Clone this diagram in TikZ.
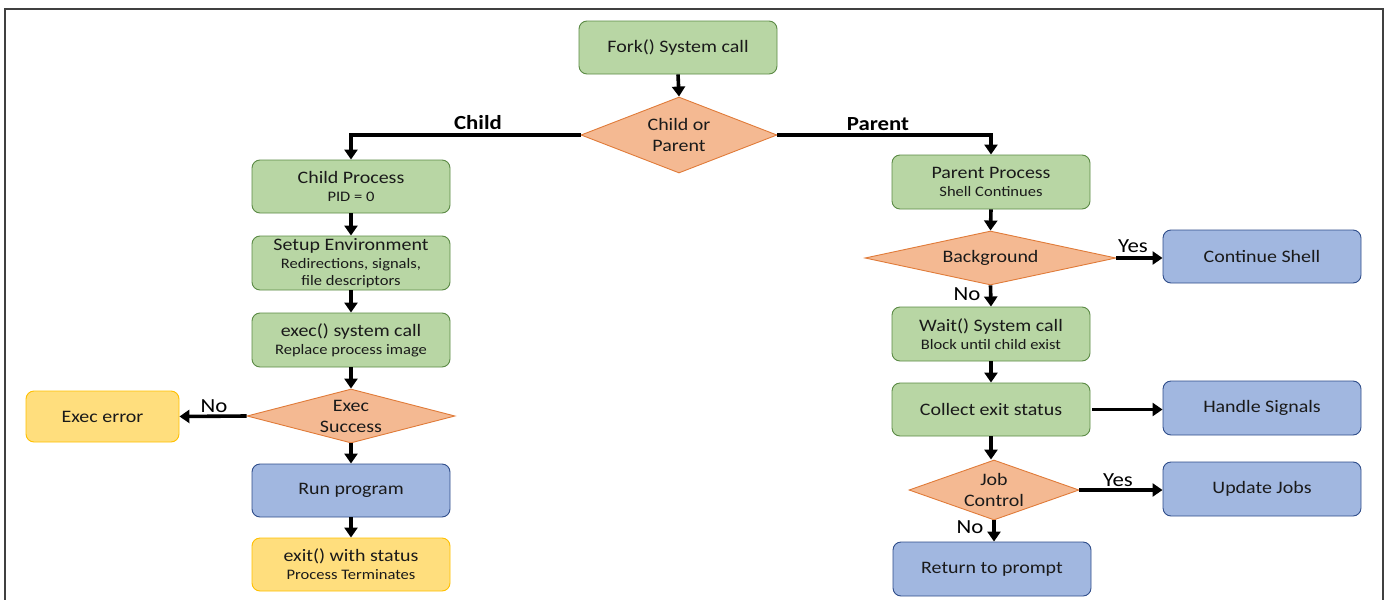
\documentclass[tikz,border=0pt]{standalone}
\usepackage{fontspec}
\setmainfont{Carlito}[FakeStretch=1.14]
\usetikzlibrary{arrows.meta,shapes.geometric}
\definecolor{gfill}{HTML}{B8D6A4}
\definecolor{gline}{HTML}{5B8A45}
\definecolor{ofill}{HTML}{F4B992}
\definecolor{oline}{HTML}{E07B39}
\definecolor{bfill}{HTML}{A1B7E0}
\definecolor{bline}{HTML}{2F4D8A}
\definecolor{yfill}{HTML}{FFDE7D}
\definecolor{yline}{HTML}{FFC000}
\definecolor{txt}{HTML}{1A1A1A}
\newcommand{\subtxt}[1]{{\fontsize{14.5}{16}\selectfont #1}}
\tikzset{
  box/.style={rectangle, rounded corners=8pt, minimum width=198pt, minimum height=53pt, align=center, line width=0.9pt, inner sep=2pt, text=txt, font=\fontsize{17.5}{19}\selectfont},
  gbox/.style={box, fill=gfill, draw=gline},
  bbox/.style={box, fill=bfill, draw=bline},
  ybox/.style={box, fill=yfill, draw=yline},
  dia/.style={diamond, fill=ofill, draw=oline, line width=0.9pt, inner sep=0pt},
  dtext/.style={align=center, text=txt, font=\fontsize{17.5}{20}\selectfont},
  arr/.style={line width=3.6pt, -{Triangle[length=10pt,width=13pt]}},
  lbl/.style={font=\fontsize{20}{22}\selectfont},
  blbl/.style={font=\bfseries\fontsize{20}{22}\selectfont}
}
\begin{document}
\begin{tikzpicture}[x=1pt,y=-1pt]
\useasboundingbox (0,0) rectangle (1385,600);
\draw[line width=1.5pt, color=black!75] (5,600) -- (5,9) -- (1383,9) -- (1383,600);

% top
\node[gbox] (fork) at (678,47.5) {Fork() System call};
\node[dia, minimum width=196pt, minimum height=76pt] (cop) at (679,135) {};
\node[dtext] (copt) at (cop) {Child or\\[1pt]Parent};

% child side
\node[gbox] (cp) at (351,186.5) {Child Process\\[-1pt]\subtxt{PID = 0}};
\node[gbox, minimum height=54pt] (se) at (351,263) {Setup Environment\\[-1pt]\subtxt{Redirections, signals,}\\[-1.5pt]\subtxt{file descriptors}};
\node[gbox, minimum height=54pt] (ex) at (351,340) {exec() system call\\[-1pt]\subtxt{Replace process image}};
\node[dia, minimum width=208pt, minimum height=54pt] (es) at (351,416) {};
\node[dtext] (est) at (es) {Exec\\[1pt]Success};
\node[ybox, minimum width=153pt, minimum height=51pt] (ee) at (102.5,416.5) {Exec error};
\node[bbox] (rp) at (351,490.5) {Run program};
\node[ybox] (xs) at (351,564.5) {exit() with status\\[-1pt]\subtxt{Process Terminates}};

% parent side
\node[gbox, minimum height=54pt] (pp) at (991,182) {Parent Process\\[-1pt]\subtxt{Shell Continues}};
\node[dia, minimum width=251pt, minimum height=54pt] (bg) at (990.5,258) {};
\node[dtext] (bgt) at (bg) {Background};
\node[bbox] (cs) at (1262,256.5) {Continue Shell};
\node[gbox, minimum height=54pt] (wt) at (991,334) {Wait() System call\\[-1pt]\subtxt{Block until child exist}};
\node[gbox] (ce) at (991,409.5) {Collect exit status};
\node[bbox, minimum height=54pt] (hs) at (1262,408) {Handle Signals};
\node[dia, minimum width=170pt, minimum height=60pt] (jc) at (994,490) {};
\node[dtext] (jct) at (jc) {Job\\[1pt]Control};
\node[bbox, minimum height=54pt] (uj) at (1262,489) {Update Jobs};
\node[bbox, minimum height=54pt] (rtp) at (992,569) {Return to prompt};

% arrows
\draw[arr] (fork.south) -- (cop.north);
\draw[arr] (cop.west) -| (cp.north);
\draw[arr] (cop.east) -| (pp.north);
\node[blbl] (lchild) at (478,123) {Child};
\node[blbl] (lparent) at (878,124) {Parent};
\draw[arr] (cp.south) -- (se.north);
\draw[arr] (se.south) -- (ex.north);
\draw[arr] (ex.south) -- (es.north);
\draw[arr] (es.west) -- (ee.east);
\node[lbl] (lno1) at (214,406) {No};
\draw[arr] (es.south) -- (rp.north);
\draw[arr] (rp.south) -- (xs.north);

\draw[arr] (pp.south) -- (bg.north);
\draw[arr] (bg.east) -- (cs.west |- bg.east);
\node[lbl] (lyes1) at (1133,246) {Yes};
\draw[arr] (bg.south) -- (wt.north);
\node[lbl] (lno2) at (967,294) {No};
\draw[arr] (wt.south) -- (ce.north);
\coordinate (ceo) at ([xshift=2pt]ce.east);
\draw[arr] (ceo) -- (hs.west |- ceo);
\draw[arr] (ce.south) -- (ce.south |- jc.north);
\draw[arr] (jc.east) -- (uj.west |- jc.east);
\node[lbl] (lyes2) at (1118,480) {Yes};
\draw[arr] (jc.south) -- (jc.south |- rtp.north);
\node[lbl] (lno3) at (970,527) {No};
\end{tikzpicture}
\end{document}
